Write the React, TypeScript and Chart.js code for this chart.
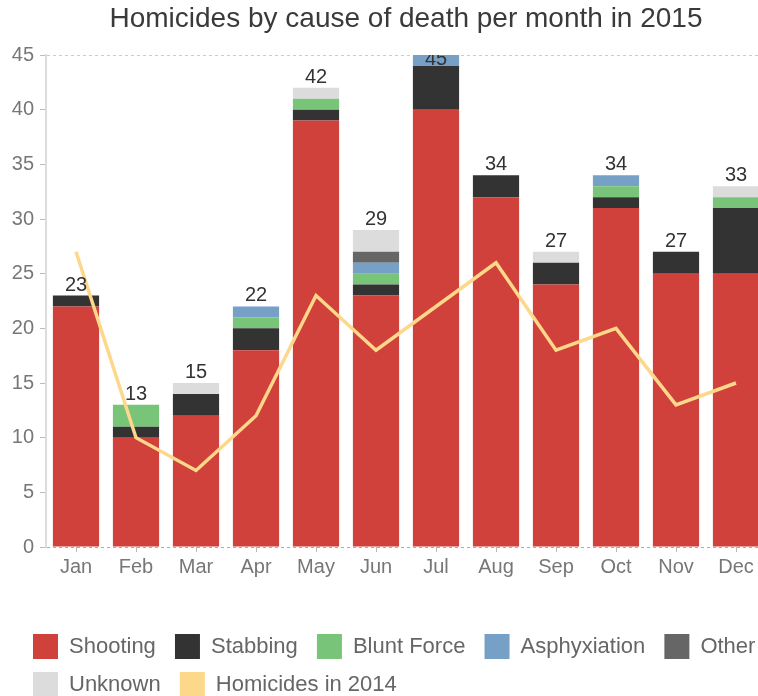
import React, { useEffect, useRef } from 'react';
import { Chart, registerables } from 'chart.js';

Chart.register(...registerables);

const months = ['Jan', 'Feb', 'Mar', 'Apr', 'May', 'Jun', 'Jul', 'Aug', 'Sep', 'Oct', 'Nov', 'Dec'];

const shooting = [22, 10, 12, 18, 39, 23, 40, 32, 24, 31, 25, 25];
const stabbing = [1, 1, 2, 2, 1, 1, 4, 2, 2, 1, 2, 6];
const bluntForce = [0, 2, 0, 1, 1, 1, 0, 0, 0, 1, 0, 1];
const asphyxiation = [0, 0, 0, 1, 0, 1, 1, 0, 0, 1, 0, 0];
const other = [0, 0, 0, 0, 0, 1, 0, 0, 0, 0, 0, 0];
const unknown = [0, 0, 1, 0, 1, 2, 0, 0, 1, 0, 0, 1];
const homicides2014 = [27, 10, 7, 12, 23, 18, 22, 26, 18, 20, 13, 15];

const seriesLabels = ['Shooting', 'Stabbing', 'Blunt Force', 'Asphyxiation', 'Other', 'Unknown'];
const seriesColors = ['#d0413c', '#333333', '#78c478', '#77a0c7', '#666666', '#dcdcdc'];
const lineLabel = 'Homicides in 2014';
const lineColor = '#fdd78a';

const yMax = 45;
const yStep = 5;

const FONT = "'Liberation Sans', Arial, Helvetica, sans-serif";

export default function App() {
  const ref = useRef<HTMLCanvasElement>(null);

  useEffect(() => {
    const canvas = ref.current;
    if (!canvas) return;
    const seriesValues = [shooting, stabbing, bluntForce, asphyxiation, other, unknown];

    const totalsPlugin = {
      id: 'totals',
      afterLayout(chart: any) {
        if (chart.legend) chart.legend.left = 20;
      },
      afterDatasetsDraw(chart: any) {
        const { ctx, chartArea, scales } = chart;
        const xs = scales.x;
        const ys = scales.y;
        ctx.save();
        ctx.beginPath();
        ctx.rect(chartArea.left, chartArea.top, chartArea.right - chartArea.left, chartArea.bottom - chartArea.top);
        ctx.clip();
        ctx.font = `20px ${FONT}`;
        ctx.fillStyle = '#333';
        ctx.textAlign = 'center';
        ctx.textBaseline = 'alphabetic';
        months.forEach((_, i) => {
          const total = seriesValues.reduce((s, arr) => s + arr[i], 0);
          let py = ys.getPixelForValue(total) - 5;
          if (py - 14 < chartArea.top) py = chartArea.top + 10;
          ctx.fillText(String(total), xs.getPixelForValue(i), py);
        });
        ctx.restore();
      },
    };

    const defaultGen = (Chart.defaults as any).plugins.legend.labels.generateLabels;

    const chart = new Chart(canvas, {
      type: 'bar',
      data: {
        labels: months,
        datasets: [
          ...seriesLabels.map((label, k) => ({
            type: 'bar' as const,
            label,
            data: seriesValues[k],
            backgroundColor: seriesColors[k],
            borderWidth: 0,
            order: 1,
            stack: 'causes',
            categoryPercentage: 1,
            barPercentage: 0.77,
          })),
          {
            type: 'line' as const,
            label: lineLabel,
            data: homicides2014,
            borderColor: lineColor,
            backgroundColor: lineColor,
            borderWidth: 3.5,
            pointRadius: 0,
            pointHoverRadius: 0,
            tension: 0,
            order: 0,
            stack: 'line',
          } as any,
        ],
      },
      options: {
        responsive: false,
        animation: false,
        devicePixelRatio: 1,
        font: { family: FONT },
        layout: { padding: { left: 10, right: 10, top: 0, bottom: 0 } },
        plugins: {
          tooltip: { enabled: false },
          title: {
            display: true,
            text: 'Homicides by cause of death per month in 2015',
            color: '#3a3a3a',
            font: { family: FONT, size: 28, weight: 'normal' },
            padding: { top: 2, bottom: 19.4 },
          },
          legend: {
            position: 'bottom',
            align: 'start',
            labels: {
              boxWidth: 25,
              boxHeight: 25,
              padding: 13,
              color: '#666',
              font: { family: FONT, size: 22 },
              sort: (a: any, b: any) => a.datasetIndex - b.datasetIndex,
              generateLabels: (c: any) =>
                defaultGen(c).map((it: any) => ({ ...it, text: it.text + ' ', lineWidth: 0 })),
            },
          },
        },
        scales: {
          x: {
            stacked: true,
            offset: true,
            border: { display: false },
            grid: {
              display: true,
              drawOnChartArea: false,
              offset: false,
              drawTicks: true,
              tickLength: 5,
              tickColor: '#bbb',
            },
            ticks: { color: '#777', font: { family: FONT, size: 20 }, padding: 3, maxRotation: 0 },
            afterFit: (s: any) => {
              s.height = 74;
            },
          },
          y: {
            stacked: true,
            min: 0,
            max: yMax,
            border: { display: true, color: '#dcdcdc', width: 2, dash: [3, 3] },
            grid: {
              display: true,
              drawOnChartArea: true,
              color: (ctx: any) =>
                ctx.tick && ctx.tick.value === 0 ? '#aaa' : ctx.tick && ctx.tick.value === yMax ? '#ccc' : 'rgba(0,0,0,0)',
              lineWidth: 1,
              drawTicks: true,
              tickLength: 6,
              tickColor: '#bbb',
              tickBorderDash: [],
            },
            ticks: { stepSize: yStep, color: '#777', font: { family: FONT, size: 20 }, padding: 6 },
            afterFit: (s: any) => {
              s.width = 36;
            },
          },
          y2: {
            type: 'linear',
            position: 'right',
            display: true,
            grid: { display: false },
            border: { display: false },
            ticks: { display: false },
            afterFit: (s: any) => {
              s.width = 36;
            },
          },
        },
      } as any,
      plugins: [totalsPlugin],
    });
    return () => chart.destroy();
  }, []);

  return (
    <div style={{ position: 'fixed', left: 0, top: 0, width: 758, height: 696, overflow: 'hidden', background: '#fff' }}>
      <canvas ref={ref} width={812} height={707} style={{ display: 'block' }} />
    </div>
  );
}
